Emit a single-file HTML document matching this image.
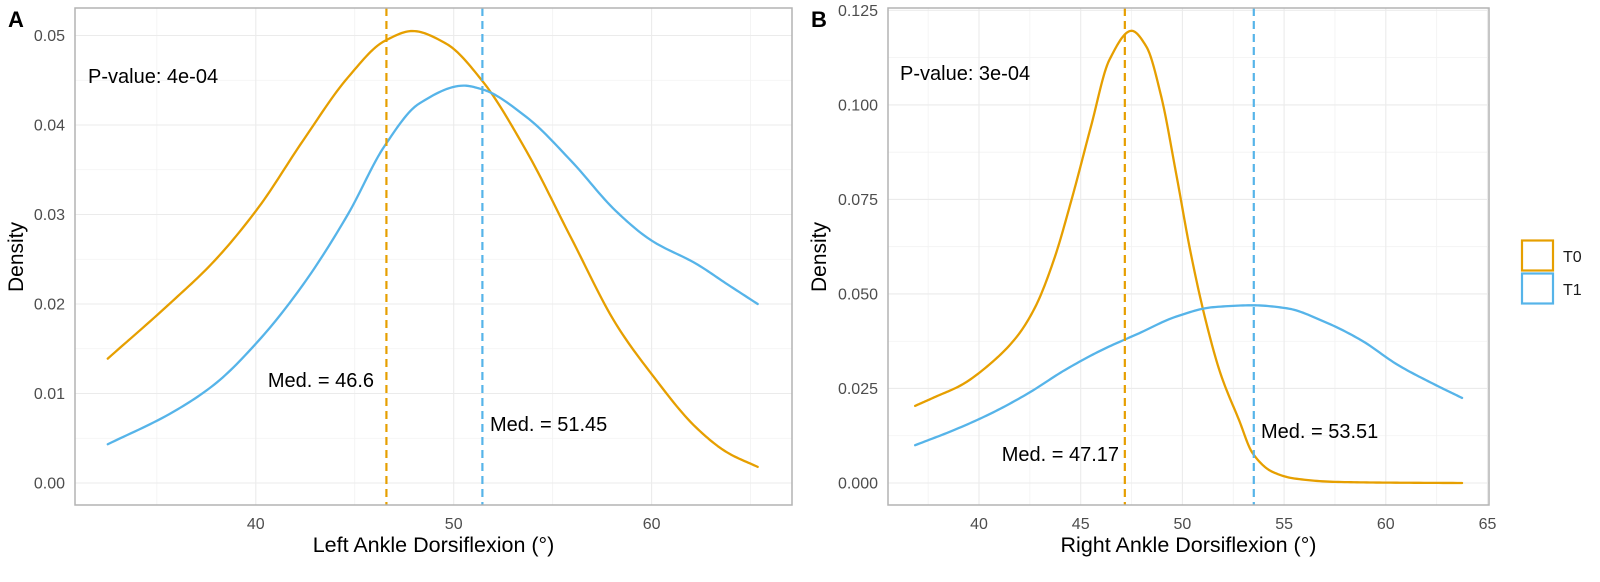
<!DOCTYPE html>
<html><head><meta charset="utf-8"><style>
html,body{margin:0;padding:0;background:#fff;}
svg{display:block;font-family:"Liberation Sans",Arial,sans-serif;}
</style></head><body>
<svg id="chart" width="1600" height="582" viewBox="0 0 1600 582" xmlns="http://www.w3.org/2000/svg">
<g id="panelA"></g>
<g id="panelB"></g>
<g id="legend">
  <rect x="1522" y="240.5" width="31" height="30" fill="#fff" stroke="#E69F00" stroke-width="2.2"/>
  <rect x="1522" y="273.5" width="31" height="30" fill="#fff" stroke="#56B4E9" stroke-width="2.2"/>
  <text x="1563" y="262" font-size="16" fill="#1a1a1a">T0</text>
  <text x="1563" y="295" font-size="16" fill="#1a1a1a">T1</text>
</g>
</svg>
<script>
// ---- Panel A data ----
const aT0X = [32.52,35.63,37.9,40.14,42.4,44.65,46.52,47.92,49.61,51.42,53.67,55.93,58.19,59.99,62.25,63.83,65.36];
const aT0Y = [0.0139,0.0200,0.0248,0.0308,0.0383,0.0453,0.0494,0.0505,0.0491,0.0450,0.0371,0.0274,0.0178,0.0122,0.0062,0.0034,0.0018];
const aT1X = [32.52,35.63,37.9,40.14,42.4,44.65,46.52,48.26,50.51,51.42,53.67,55.93,58.19,59.99,62.25,63.83,65.36];
const aT1Y = [0.00433,0.0077,0.0110,0.0159,0.0222,0.0300,0.0377,0.0424,0.0444,0.0440,0.0409,0.0360,0.0304,0.0271,0.0245,0.0222,0.0200];
const aMedians = [46.6, 51.45];
const aXTicks = [40,50,60];
const aYTicks = [0,0.01,0.02,0.03,0.04,0.05];
const aYTickLabels = ["0.00","0.01","0.02","0.03","0.04","0.05"];
// ---- Panel B data ----
const bT0X = [36.86,37.86,39.13,40.59,41.86,42.77,43.68,44.59,45.5,46.41,47.5,48.23,48.96,49.69,50.41,51.14,51.87,52.78,53.45,54.41,55.5,57.5,60,63.75];
const bT0Y = [0.0204,0.0228,0.0259,0.0317,0.0387,0.0466,0.0590,0.0757,0.0942,0.1119,0.1196,0.1154,0.1022,0.0819,0.0608,0.0431,0.0290,0.0167,0.0079,0.0030,0.0012,0.0003,0.0001,0];
const bT1X = [36.86,38.77,40.59,42.41,44.23,46.05,47.87,49.69,51.51,53.47,55.14,56.96,58.78,60.6,62.42,63.75];
const bT1Y = [0.0100,0.0140,0.0184,0.0237,0.0299,0.0352,0.0396,0.0440,0.0465,0.0470,0.0462,0.0427,0.0378,0.0312,0.0260,0.0225];
const bMedians = [47.17, 53.51];
const bXTicks = [40,45,50,55,60,65];
const bYTicks = [0,0.025,0.05,0.075,0.1,0.125];
const bYTickLabels = ["0.000","0.025","0.050","0.075","0.100","0.125"];

const NS = "http://www.w3.org/2000/svg";
const COLORS = ["#E69F00","#56B4E9"];
function mk(parent, tag, attrs, text){
  const e = document.createElementNS(NS, tag);
  for (const k in attrs) e.setAttribute(k, attrs[k]);
  if (text !== undefined) e.textContent = text;
  parent.appendChild(e);
  return e;
}
// monotone cubic (Fritsch-Carlson) sampled densely
function monotonePath(xs, ys, X, Y){
  const n = xs.length, d = [], m = [];
  for (let i=0;i<n-1;i++) d.push((ys[i+1]-ys[i])/(xs[i+1]-xs[i]));
  m[0]=d[0]; m[n-1]=d[n-2];
  for (let i=1;i<n-1;i++){
    if (d[i-1]*d[i] <= 0) m[i]=0;
    else { const w1=2*(xs[i+1]-xs[i])+(xs[i]-xs[i-1]), w2=(xs[i+1]-xs[i])+2*(xs[i]-xs[i-1]);
      m[i]=(w1+w2)/(w1/d[i-1]+w2/d[i]); }
  }
  let path = "M"+X(xs[0]).toFixed(2)+","+Y(ys[0]).toFixed(2);
  for (let i=0;i<n-1;i++){
    const h = xs[i+1]-xs[i], steps = 16;
    for (let k=1;k<=steps;k++){
      const t=k/steps, t2=t*t, t3=t2*t;
      const v=(2*t3-3*t2+1)*ys[i]+(t3-2*t2+t)*h*m[i]+(-2*t3+3*t2)*ys[i+1]+(t3-t2)*h*m[i+1];
      path += " L"+X(xs[i]+t*h).toFixed(2)+","+Y(v).toFixed(2);
    }
  }
  return path;
}
function drawPanel(cfg){
  const g = document.getElementById(cfg.id);
  const X = v => cfg.x0px + (v - cfg.x0v) * cfg.xs;
  const Y = v => cfg.y0px - v * cfg.ys;
  cfg.xMinor.forEach(v=>{
    const l = mk(g,"line",{x1:X(v),x2:X(v),y1:cfg.top,y2:cfg.bottom,stroke:"#F2F2F2","stroke-width":0.8});
    
    
  });
  cfg.yMinor.forEach(v=>{
    const l = mk(g,"line",{x1:cfg.left,x2:cfg.right,y1:Y(v),y2:Y(v),stroke:"#F2F2F2","stroke-width":0.8});
    
    
  });
  cfg.xTicks.forEach(v=>{
    const l = mk(g,"line",{x1:X(v),x2:X(v),y1:cfg.top,y2:cfg.bottom,stroke:"#EBEBEB","stroke-width":1.1});
    
    
    const t = mk(g,"text",{x:X(v),y:cfg.bottom+24,"text-anchor":"middle","font-size":16,fill:"#4d4d4d"}, String(v));
    
    
  });
  cfg.yTicks.forEach((v,i)=>{
    const l = mk(g,"line",{x1:cfg.left,x2:cfg.right,y1:Y(v),y2:Y(v),stroke:"#EBEBEB","stroke-width":1.1});
    
    
    const t = mk(g,"text",{x:cfg.left-10,y:Y(v)+5.5,"text-anchor":"end","font-size":16,fill:"#4d4d4d"}, cfg.yLabels[i]);
    
    
  });
  cfg.series.forEach((s,i)=>{
    const p = mk(g,"path",{d:monotonePath(s[0], s[1], X, Y),fill:"none",stroke:COLORS[i],"stroke-width":2.3,"stroke-linejoin":"round","stroke-linecap":"round"});
    
    
  });
  cfg.medians.forEach((m,i)=>{
    const l = mk(g,"line",{x1:X(m),x2:X(m),y1:cfg.top,y2:cfg.bottom,stroke:COLORS[i],"stroke-width":2.2,"stroke-dasharray":"8,5"});
    
    
  });
  const b = mk(g,"rect",{x:cfg.left,y:cfg.top,width:cfg.right-cfg.left,height:cfg.bottom-cfg.top,fill:"none",stroke:"#B3B3B3","stroke-width":1.5});
  
  
  cfg.medLabels.forEach((ml,i)=>{
    const t = mk(g,"text",{x:ml.x,y:ml.y,"text-anchor":ml.anchor,"font-size":20,fill:"#000"}, "Med. = " + cfg.medians[i]);
    
    
  });
  const pv = mk(g,"text",{x:cfg.pv.x,y:cfg.pv.y,"font-size":20,fill:"#000"}, cfg.pv.text);
  
  
  const xt = mk(g,"text",{x:(cfg.left+cfg.right)/2,y:552,"text-anchor":"middle","font-size":21.5,fill:"#000"}, cfg.xTitle);
  
  
  const yt = mk(g,"text",{x:0,y:0,"text-anchor":"middle","font-size":21,fill:"#000",transform:"translate("+(cfg.ytX)+",257) rotate(-90)"}, "Density");
  
  
  const tag = mk(g,"text",{x:cfg.tag.x,y:27,"font-size":22,"font-weight":"bold",fill:"#000"}, cfg.tag.text);
  
  
}
drawPanel({
  id:"panelA", left:75, right:792, top:8, bottom:505,
  x0v:40, x0px:255.8, xs:19.79, y0px:483, ys:8950,
  xTicks:aXTicks, xMinor:[35,45,55,65], yTicks:aYTicks, yLabels:aYTickLabels,
  yMinor:[0.005,0.015,0.025,0.035,0.045],
  series:[[aT0X,aT0Y],[aT1X,aT1Y]], medians:aMedians,
  medLabels:[{x:374,y:387,anchor:"end"},{x:490,y:431,anchor:"start"}],
  pv:{x:88,y:83,text:"P-value: 4e-04"},
  xTitle:"Left Ankle Dorsiflexion (°)", ytX:23, tag:{x:8,text:"A"}
});
drawPanel({
  id:"panelB", left:888, right:1489, top:8, bottom:505,
  x0v:40, x0px:979, xs:20.34, y0px:483, ys:3781,
  xTicks:bXTicks, xMinor:[37.5,42.5,47.5,52.5,57.5,62.5], yTicks:bYTicks, yLabels:bYTickLabels,
  yMinor:[0.0125,0.0375,0.0625,0.0875,0.1125],
  series:[[bT0X,bT0Y],[bT1X,bT1Y]], medians:bMedians,
  medLabels:[{x:1119,y:461,anchor:"end"},{x:1261,y:438,anchor:"start"}],
  pv:{x:900,y:80,text:"P-value: 3e-04"},
  xTitle:"Right Ankle Dorsiflexion (°)", ytX:826, tag:{x:811,text:"B"}
});
</script>
</body></html>
